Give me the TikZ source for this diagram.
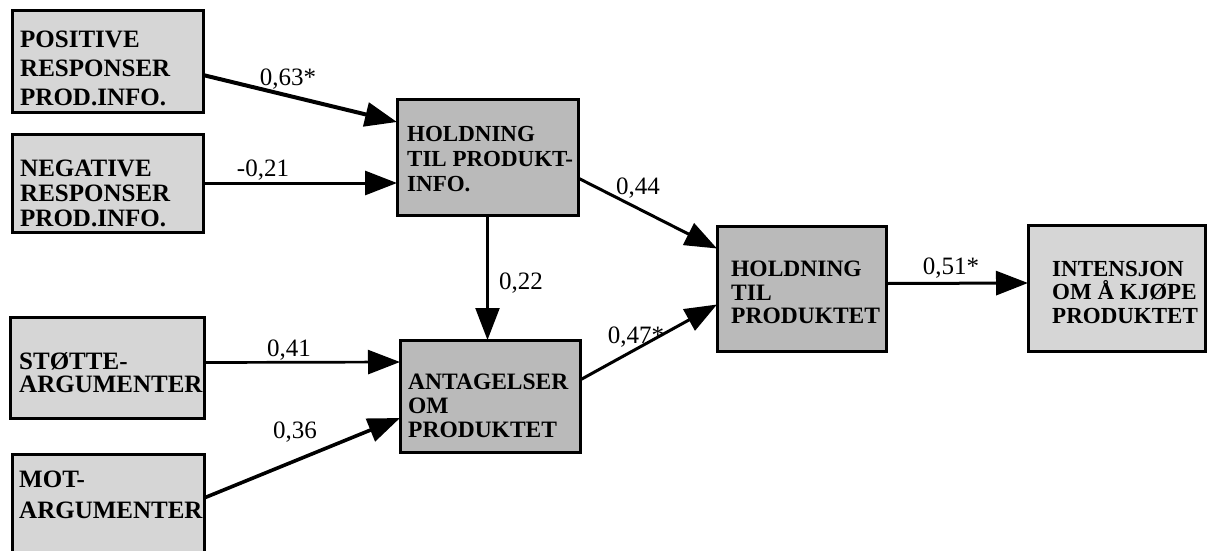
\documentclass[tikz,border=0pt]{standalone}
\usepackage{fontspec}
\setmainfont{Liberation Serif}
\usetikzlibrary{arrows.meta}
\definecolor{boxlight}{gray}{0.84}
\definecolor{boxdark}{gray}{0.73}
\tikzset{
  box/.style={draw=black, line width=3pt, anchor=north west, inner sep=0pt, outer sep=0pt},
  boxtext/.style={anchor=north west, inner sep=0pt, align=left, font=\fontsize{23}{26}\selectfont\bfseries},
  coef/.style={font=\fontsize{25}{27}\selectfont, inner sep=0pt},
  arr/.style={line width=3pt, -{Triangle[length=32pt,width=24pt]}},
}
\begin{document}
\begin{tikzpicture}[x=1pt,y=-1pt]
\useasboundingbox (0,0) rectangle (1207,550);
\clip (0,0) rectangle (1207,550);
% boxes
\node[box, fill=boxlight, minimum width=191pt, minimum height=102pt] (pos) at (12,10) {};
\node[box, fill=boxlight, minimum width=191pt, minimum height=98pt] (neg) at (12,134) {};
\node[box, fill=boxlight, minimum width=194pt, minimum height=101pt] (sto) at (10,317) {};
\node[box, fill=boxlight, minimum width=192pt, minimum height=110pt] (mot) at (12,454) {};
\node[box, fill=boxdark, minimum width=181pt, minimum height=116pt] (htpi) at (397,99) {};
\node[box, fill=boxdark, minimum width=180pt, minimum height=112pt] (ant) at (400,340) {};
\node[box, fill=boxdark, minimum width=169pt, minimum height=125pt] (htp) at (717,226) {};
\node[box, fill=boxlight, minimum width=177pt, minimum height=126pt] (int) at (1028,225) {};
% box texts
\node[boxtext, font=\fontsize{25}{29}\selectfont\bfseries] (posT) at (20,31) {POSITIVE\\RESPONSER\\PROD.INFO.};
\node[boxtext, font=\fontsize{25}{25}\selectfont\bfseries] (negT) at (20,160) {NEGATIVE\\RESPONSER\\PROD.INFO.};
\node[boxtext, font=\fontsize{25}{23}\selectfont\bfseries] (stoT) at (19,352) {STØTTE-\\ARGUMENTER};
\node[boxtext, font=\fontsize{25}{31}\selectfont\bfseries] (motT) at (19,471) {MOT-\\ARGUMENTER};
\node[boxtext, font=\fontsize{23}{25}\selectfont\bfseries] (htpiT) at (407,126) {HOLDNING\\TIL PRODUKT-\\INFO.};
\node[boxtext, font=\fontsize{23.5}{24}\selectfont\bfseries] (antT) at (408,374) {ANTAGELSER\\OM\\PRODUKTET};
\node[boxtext, font=\fontsize{23.5}{23.5}\selectfont\bfseries] (htpT) at (731,261) {HOLDNING\\TIL\\PRODUKTET};
\node[boxtext, font=\fontsize{23}{23.5}\selectfont\bfseries] (intT) at (1052,261) {INTENSJON\\OM Å KJØPE\\PRODUKTET};
% connectors
\draw[arr, line width=4pt] ([yshift=-14pt]pos.east) -- ([yshift=35pt]htpi.west);
\draw[arr] (neg.east) -- ([yshift=-26pt]htpi.west);
\draw[arr] ([yshift=-21pt]htpi.east) -- ([yshift=40pt]htp.west);
\draw[arr, line width=2.3pt] (htpi.south) -- (htpi.south |- ant.north);
\draw[arr, line width=2.7pt] ([yshift=5pt]sto.east) -- ([yshift=34pt]ant.west);
\draw[arr, line width=3.6pt] ([yshift=11pt]mot.east) -- ([yshift=-22pt]ant.west);
\draw[arr] ([yshift=16pt]ant.east) -- ([yshift=-16pt]htp.west);
\draw[arr] ([yshift=5pt]htp.east) -- ([yshift=5pt]int.west);
% coefficients
\node[coef] (c1) at (288,79) {0,63*};
\node[coef] (c2) at (263,170) {-0,21};
\node[coef] (c3) at (638,188) {0,44};
\node[coef] (c4) at (521,283) {0,22};
\node[coef] (c5) at (289,350) {0,41};
\node[coef] (c6) at (295,432) {0,36};
\node[coef] (c7) at (636,337) {0,47*};
\node[coef] (c8) at (951,268) {0,51*};
\end{tikzpicture}
\end{document}
